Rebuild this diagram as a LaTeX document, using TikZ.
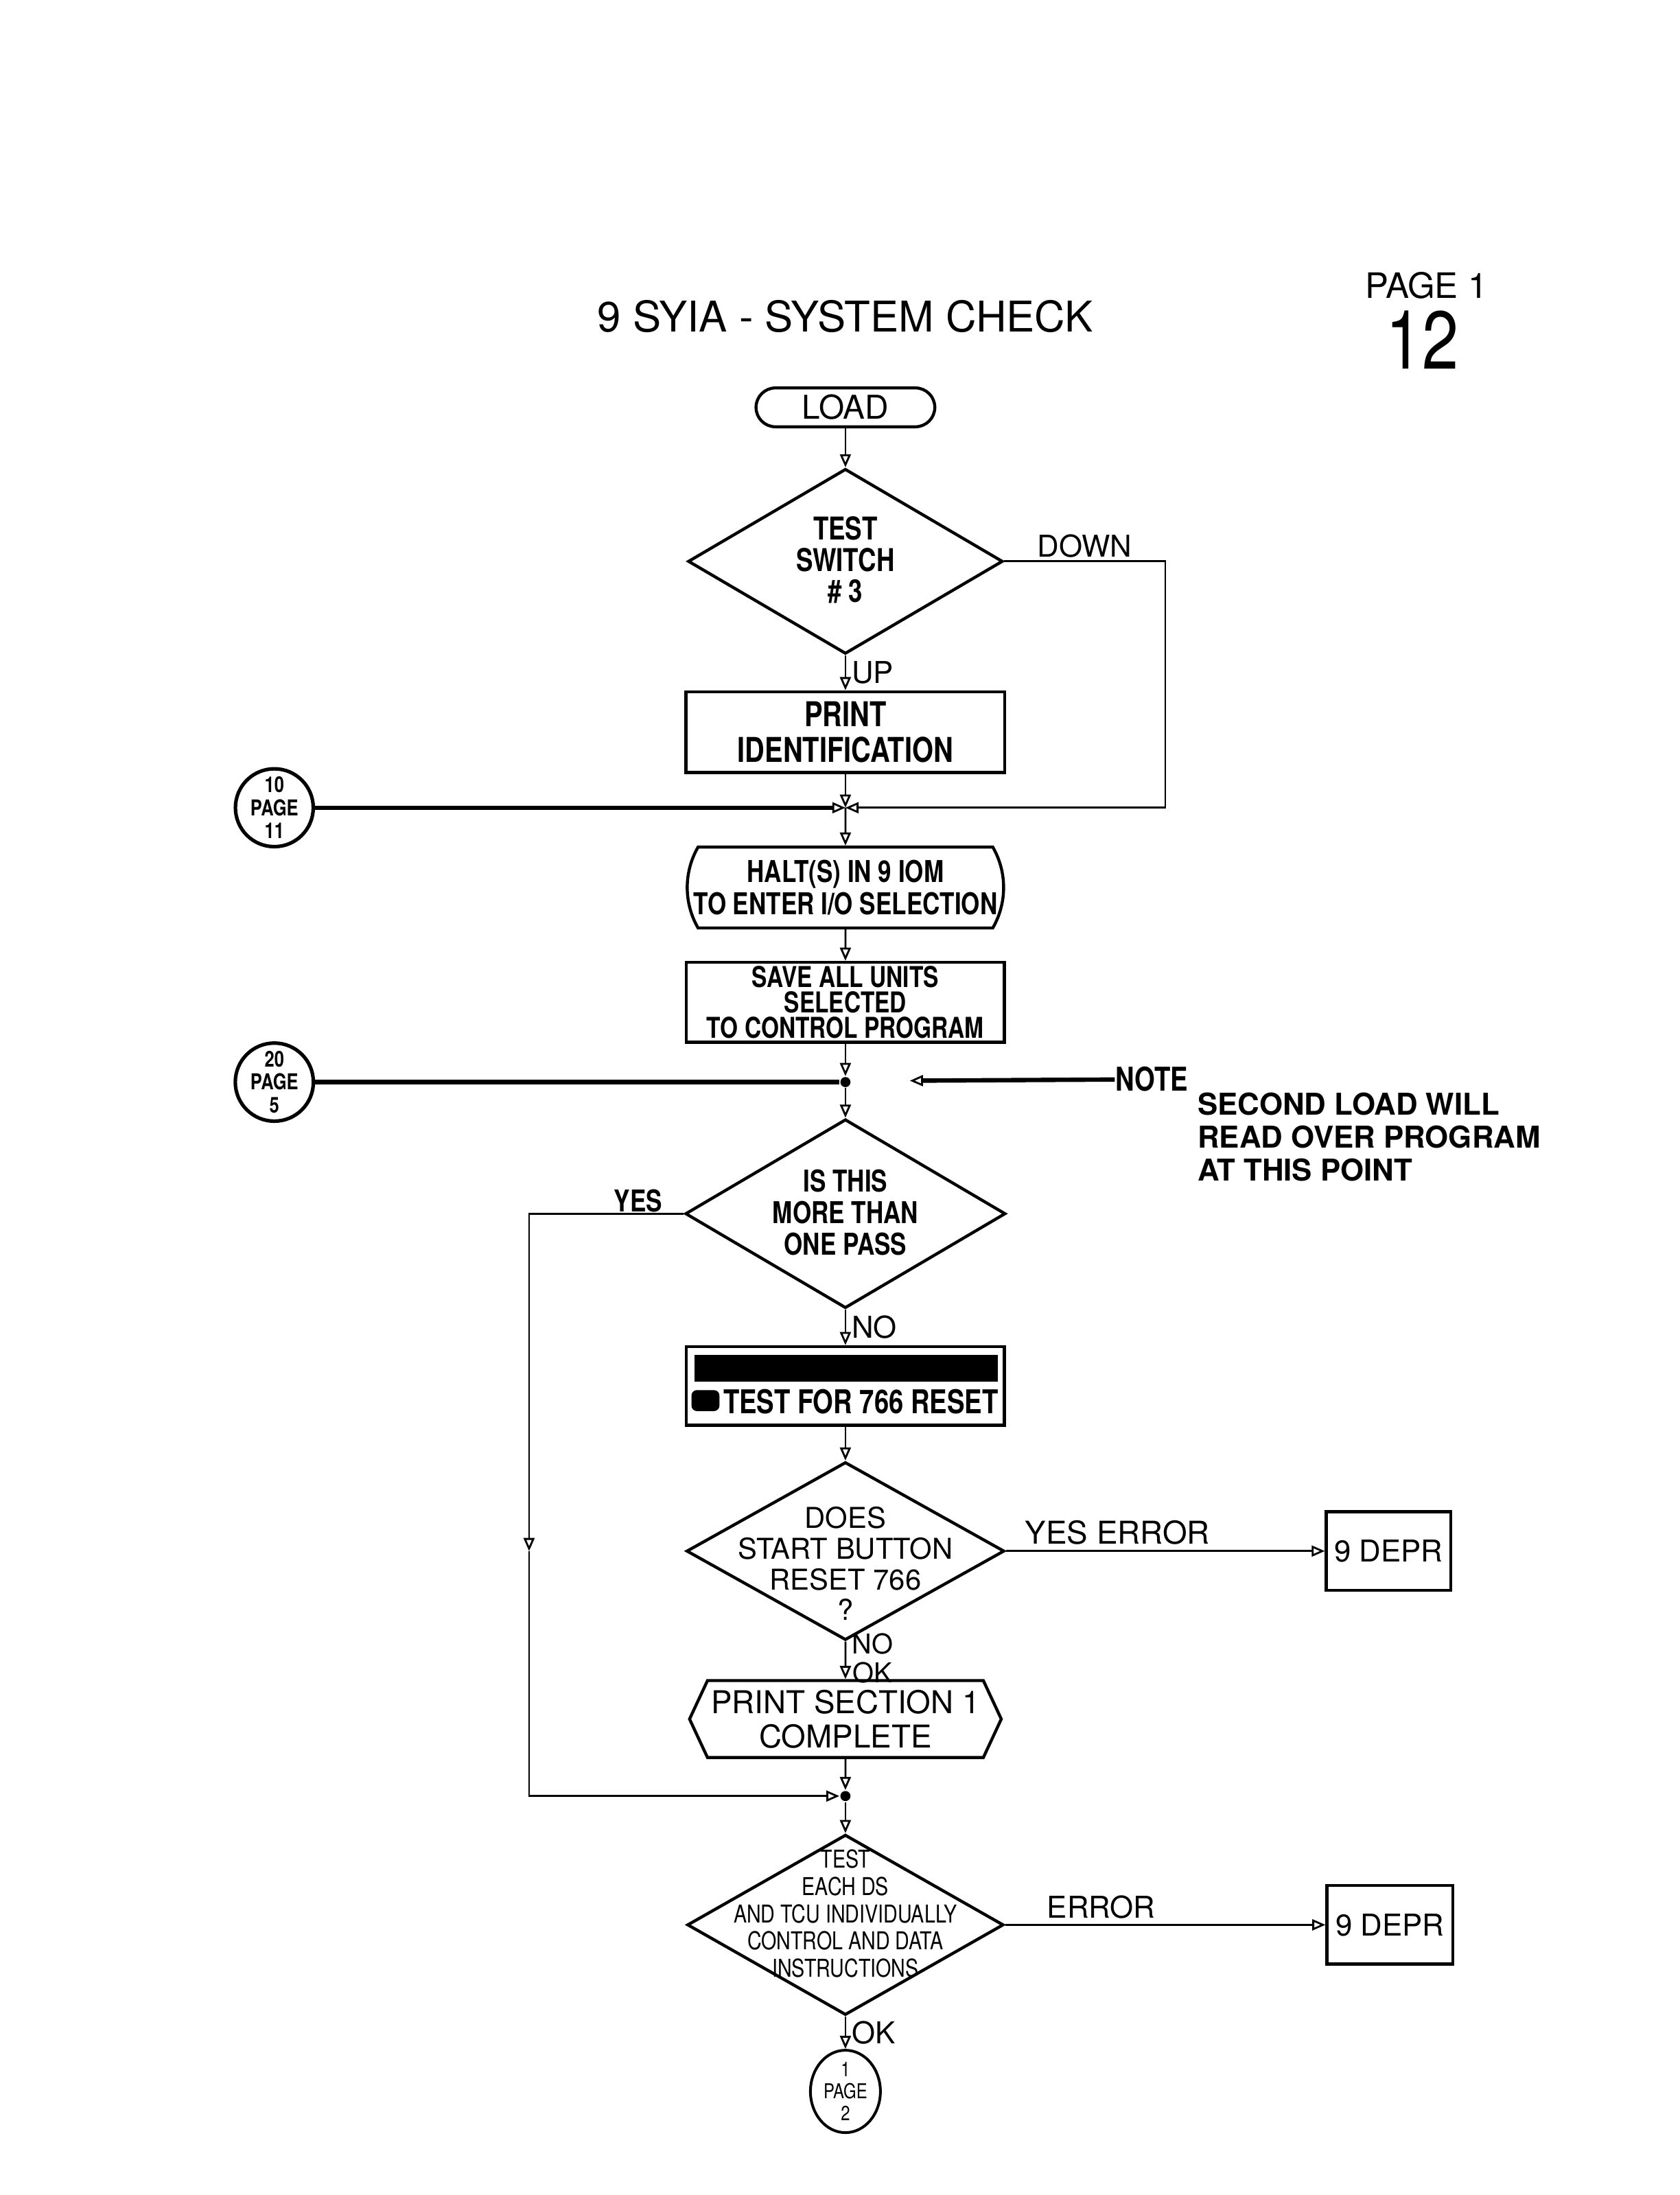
\documentclass[tikz,border=0pt]{standalone}
\usepackage{fontspec}
\setsansfont{TeX Gyre Heros}
\newfontfamily\condfont[FakeStretch=0.8]{TeX Gyre Heros}
\usetikzlibrary{shapes.geometric,shapes.misc,shapes.symbols,arrows.meta}
\begin{document}
\begin{tikzpicture}[x=0.018cm, y=-0.018cm, line width=0.7pt,
    >={Triangle[open,length=4.8pt,width=4pt,line width=0.7pt]},
    box/.style={draw, line width=1.1pt, inner sep=0pt, align=center},
    dec/.style={draw, diamond, line width=1.1pt, inner sep=0pt},
    conn/.style={draw, circle, line width=1.3pt, minimum size=1cm, inner sep=0pt},
    dot/.style={circle, fill, inner sep=0pt, minimum size=0.13cm},
    heavy/.style={line width=1.6pt},
    boldtxt/.style 2 args={font=\condfont\bfseries\fontsize{#1}{#2}\selectfont, align=center, inner sep=0pt},
    widebold/.style 2 args={font=\sffamily\bfseries\fontsize{#1}{#2}\selectfont, align=left, inner sep=0pt},
    regtxt/.style 2 args={font=\sffamily\fontsize{#1}{#2}\selectfont, align=center, inner sep=0pt},
    condtxt/.style 2 args={font=\condfont\fontsize{#1}{#2}\selectfont, align=center, inner sep=0pt}]
  \useasboundingbox (0,0) rectangle (1200,1568);
  \node[regtxt={15.5}{18}] (title) at (604,226) {9 SYIA - SYSTEM CHECK};
  \node[regtxt={12.8}{14}] (pagelbl) at (1019,204) {PAGE 1};
  \node[condtxt={30}{30}] (pagenum) at (1016,243) {12};
  \node[box, rounded corners=0.25cm, minimum width=2.3cm, minimum height=0.5cm, regtxt={12}{12}] (load) at (604,291) {LOAD};
  \node[dec, minimum width=4.05cm, minimum height=2.38cm] (d1) at (604,401) {};
  \node[boldtxt={11.5}{11.5}] (d1t) at (604,400) {TEST\\SWITCH\\\# 3};
  \node[box, minimum width=4.1cm, minimum height=1.04cm, boldtxt={12.5}{13}] (pid) at (604,523) {PRINT\\IDENTIFICATION};
  \coordinate (j1) at (604,577);
  \node[conn, boldtxt={8}{8.4}] (c1) at (196,577) {10\\PAGE\\11};
  \node[box, rounded rectangle, rounded rectangle arc length=60, minimum width=4.07cm, minimum height=1.04cm, boldtxt={11}{12}] (halt) at (604,634) {HALT(S) IN 9 IOM\\TO ENTER I/O SELECTION};
  \node[box, minimum width=4.09cm, minimum height=1.03cm, boldtxt={10.5}{9.4}] (save) at (604,716) {SAVE ALL UNITS\\SELECTED\\TO CONTROL PROGRAM};
  \node[dot] (j2) at (604,773) {};
  \node[conn, boldtxt={8}{8.4}] (c2) at (196,773) {20\\PAGE\\5};
  \node[boldtxt={12}{12}] (note) at (823,771) {NOTE};
  \coordinate (notetip) at (650,772);
  \node[widebold={11}{12}, anchor=north west] (notebody) at (855,780) {SECOND LOAD WILL\\READ OVER PROGRAM\\AT THIS POINT};
  \node[dec, minimum width=4.12cm, minimum height=2.43cm] (d2) at (604,867) {};
  \node[boldtxt={11}{11.5}] (d2t) at (604,866) {IS THIS\\MORE THAN\\ONE PASS};
  \node[boldtxt={11}{11}] (yes) at (456,858) {YES};
  \coordinate (ymid) at (378,1108);
  \node[box, minimum width=4.09cm, minimum height=1.01cm] (tst) at (604,990) {};
  \fill (496,968) rectangle (713,987);
  \fill[rounded corners=2pt] (494,993) rectangle (514,1008);
  \node[boldtxt={12}{12}] (tsttxt) at (615,1001) {TEST FOR 766 RESET};
  \node[dec, minimum width=4.09cm, minimum height=2.29cm] (d3) at (604,1108) {};
  \node[regtxt={10.5}{11.2}] (d3t) at (604,1117) {DOES\\START BUTTON\\RESET 766\\?};
  \node[box, minimum width=1.6cm, minimum height=1.01cm, regtxt={11}{11}] (dp1) at (992,1108) {9 DEPR};
  \node[box, signal, signal to=west and east, signal pointer angle=130, minimum width=4.01cm, minimum height=0.99cm, regtxt={11.5}{12.5}] (hex) at (604,1228) {PRINT SECTION 1\\COMPLETE};
  \node[dot] (j3) at (604,1283) {};
  \node[dec, minimum width=4.07cm, minimum height=2.32cm] (d4) at (604,1375) {};
  \node[condtxt={9}{10}] (d4t) at (604,1367) {TEST\\EACH DS\\AND TCU INDIVIDUALLY\\CONTROL AND DATA\\INSTRUCTIONS};
  \node[box, minimum width=1.62cm, minimum height=1.01cm, regtxt={11}{11}] (dp2) at (993,1375) {9 DEPR};
  \node[draw, ellipse, line width=1pt, minimum width=0.9cm, minimum height=0.94cm, inner sep=0pt, condtxt={7.5}{8}] (pg2) at (604,1494) {1\\PAGE\\2};
  \draw[->] (load) -- (d1);
  \draw[->] (d1.east) -- node[regtxt={11}{11}, above=1pt] (down) {DOWN} ++(115,0) |- (j1);
  \draw[->] (d1) -- node[regtxt={11}{11}, right=2pt] (up) {UP} (pid);
  \draw[->] (pid) -- (j1);
  \draw[->, heavy] (c1) -- (j1);
  \draw[->] (j1) -- (halt);
  \draw[->] (halt) -- (save);
  \draw[->] (save) -- (j2);
  \draw[heavy] (c2) -- (j2);
  \draw[->] (j2) -- (d2);
  \draw[->, heavy] (note) -- (notetip);
  \draw[->] (d2.west) -| (ymid);
  \draw[->] (ymid) |- (j3);
  \draw[->] (d2) -- node[regtxt={11}{11}, right=2pt] (no) {NO} (tst);
  \draw[->] (tst) -- (d3);
  \draw[->] (d3) -- node[regtxt={11.5}{11.5}, above=2pt, pos=0.35] (yeserr) {YES ERROR} (dp1);
  \draw[->] (d3) -- node[regtxt={10}{10.5}, right=2pt, pos=0.45] (nook) {NO\\OK} (hex);
  \draw[->] (hex) -- (j3);
  \draw[->] (j3) -- (d4);
  \draw[->] (d4) -- node[regtxt={11}{11}, above=2pt, pos=0.3] (err) {ERROR} (dp2);
  \draw[->] (d4) -- node[regtxt={11}{11}, right=2pt] (ok) {OK} (pg2);
\end{tikzpicture}
\end{document}
